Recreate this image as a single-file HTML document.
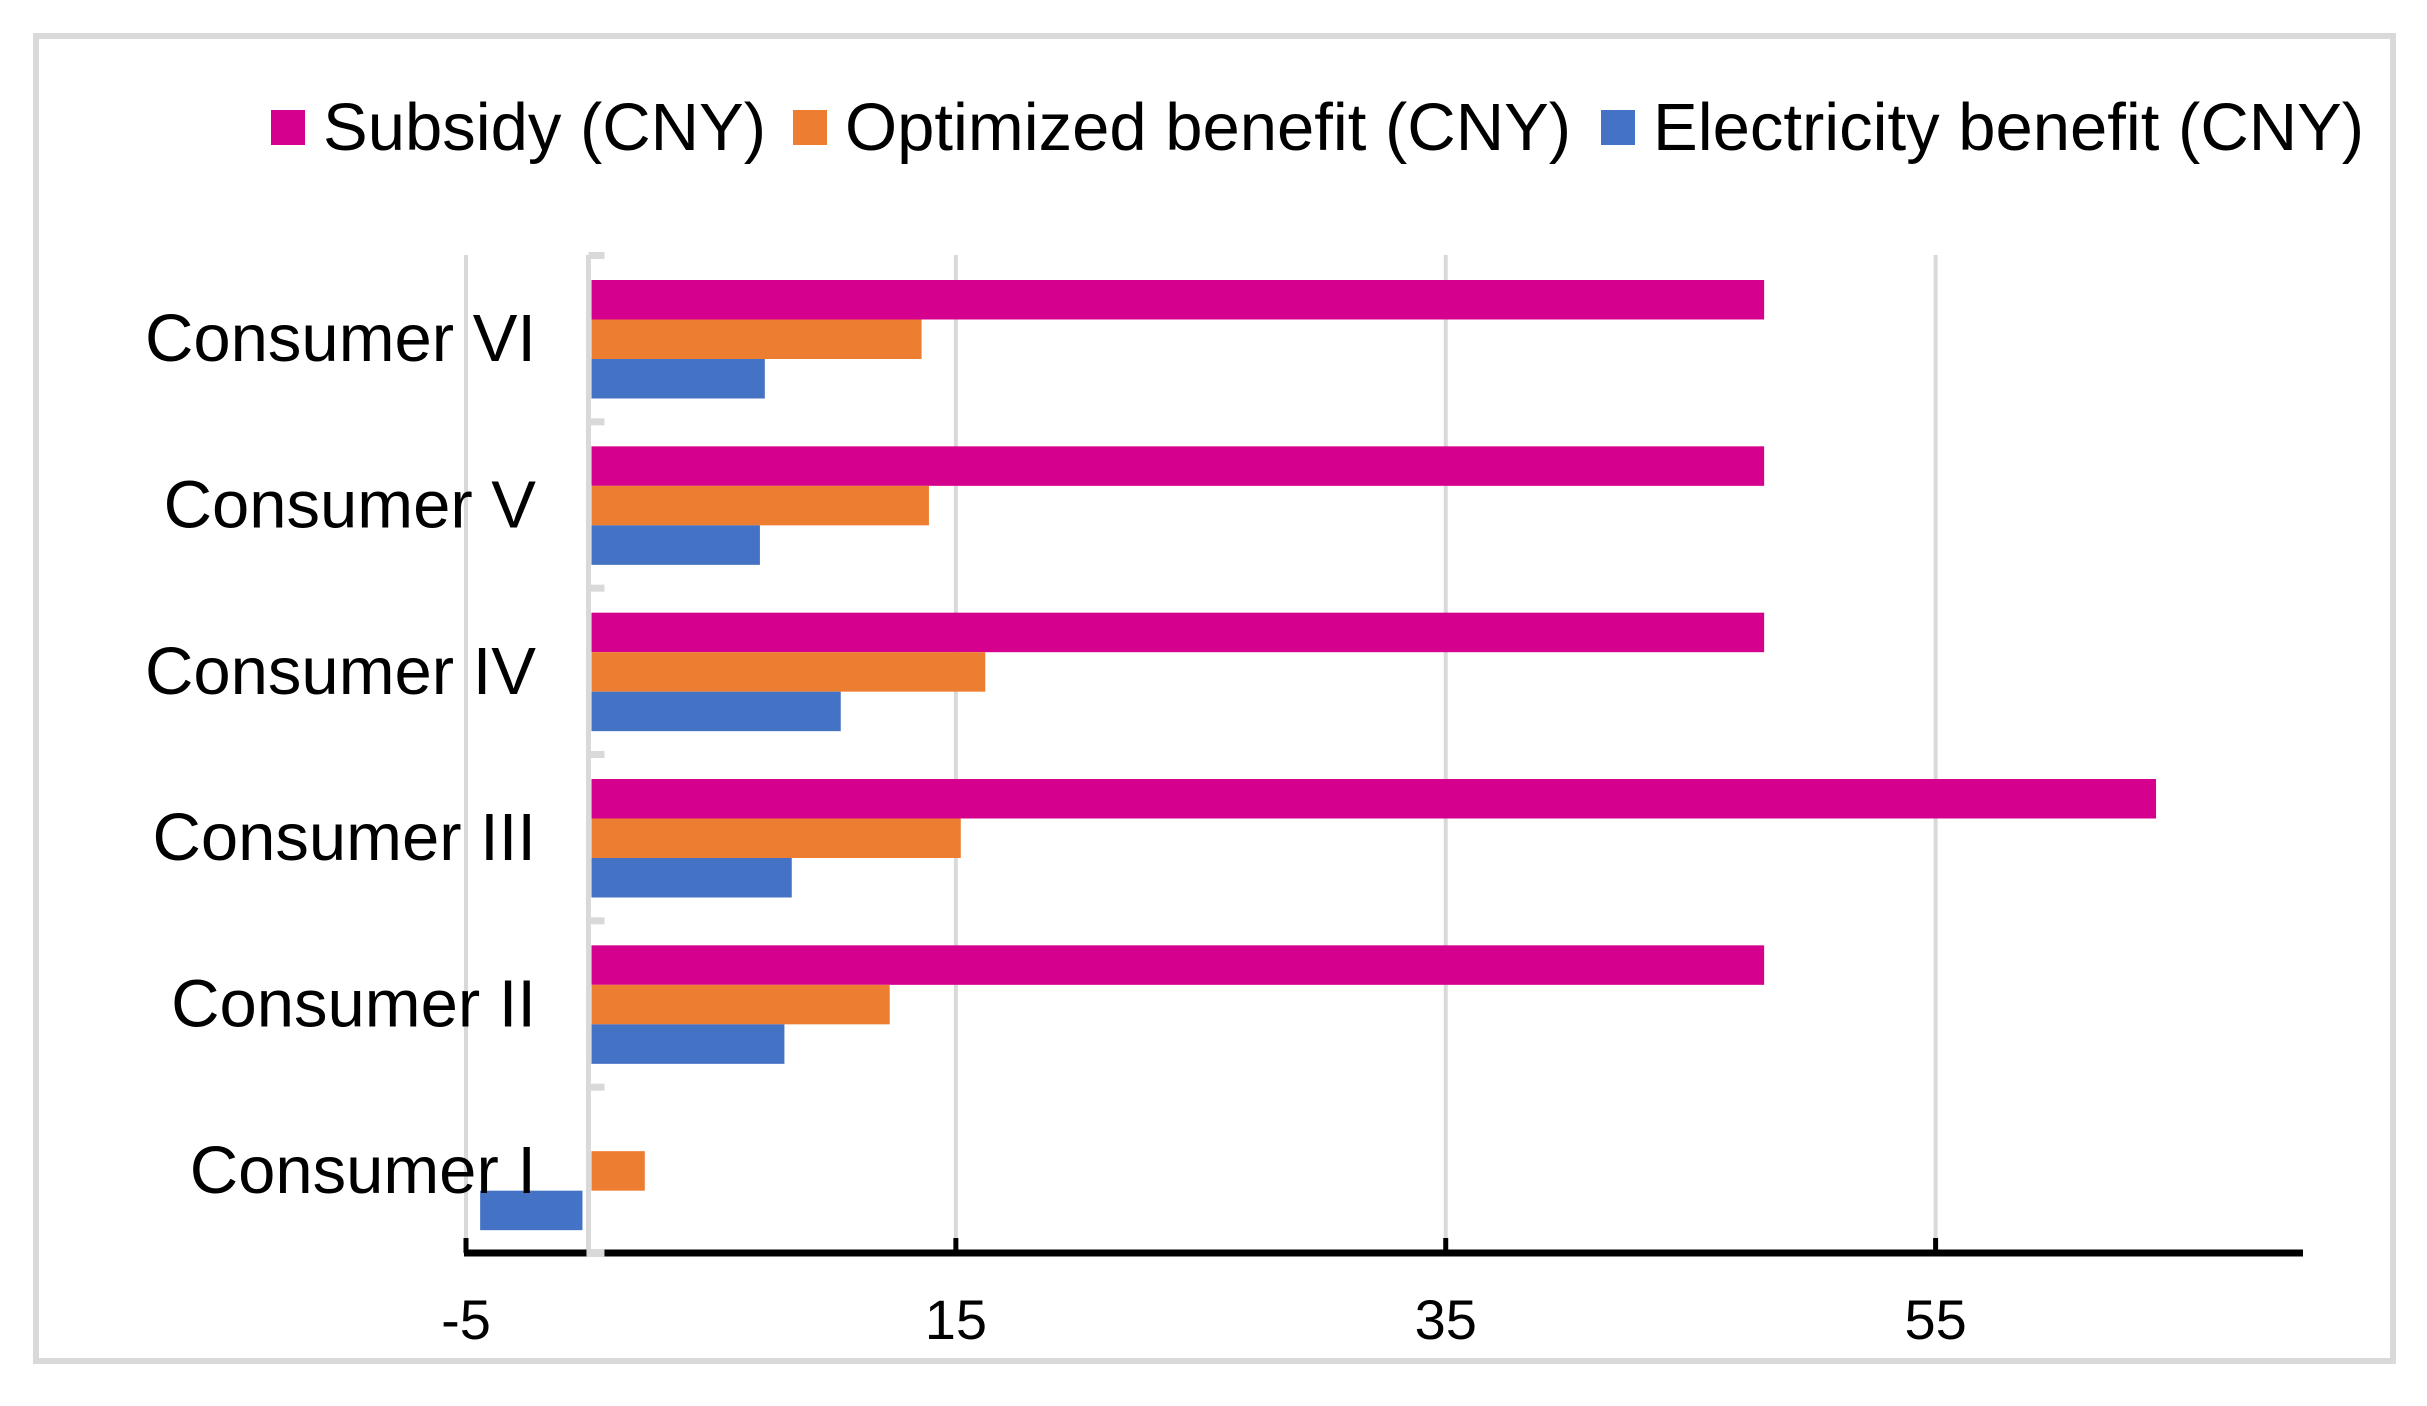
<!DOCTYPE html>
<html><head><meta charset="utf-8"><style>
html,body{margin:0;padding:0;background:#fff;}
svg{display:block;font-family:"Liberation Sans",Arial,sans-serif;}
</style></head><body>
<svg id="chart" width="2427" height="1406" viewBox="0 0 2427 1406">
<rect x="36" y="36" width="2357" height="1325" fill="#fff" stroke="#d9d9d9" stroke-width="6"/>
<g id="grid"></g><g id="bars"></g><g id="axes"></g><g id="legend"></g>
</svg>
<script>
const categories = ["Consumer I","Consumer II","Consumer III","Consumer IV","Consumer V","Consumer VI"];
const subsidy = [0, 48, 64, 48, 48, 48];
const optimized = [2.3, 12.3, 15.2, 16.2, 13.9, 13.6];
const electricity = [-4.3, 8.0, 8.3, 10.3, 7.0, 7.2];
const xTicks = [-5, 15, 35, 55];
const seriesNames = ["Subsidy (CNY)","Optimized benefit (CNY)","Electricity benefit (CNY)"];
const colors = ["#d6008f","#ed7d31","#4472c4"];

const NS="http://www.w3.org/2000/svg";
const xMin=-5,xMax=70,pLeft=466,pRight=2303,pTop=255,pBottom=1253;
const xs=v=>pLeft+(v-xMin)*(pRight-pLeft)/(xMax-xMin);
const band=(pBottom-pTop)/categories.length;
const bandTop=i=>pBottom-(i+1)*band;
function mk(tag,attrs,parent){const e=document.createElementNS(NS,tag);for(const k in attrs)e.setAttribute(k,attrs[k]);document.getElementById(parent).appendChild(e);return e;}

xTicks.forEach(t=>{
  const g=mk('line',{x1:xs(t),x2:xs(t),y1:pTop,y2:pBottom,stroke:'#d9d9d9','stroke-width':4},'grid');
  
  
});
const zl=mk('line',{x1:xs(0),x2:xs(0),y1:pTop,y2:pBottom+4,stroke:'#d9d9d9','stroke-width':5},'grid');


for(let i=0;i<=categories.length;i++){
  const s=mk('rect',{x:xs(0),y:pTop+i*band-3,width:16,height:7,fill:'#d9d9d9'},'grid');
  
  
}

const series=[subsidy,optimized,electricity];
const barH=39.5,off=25;
categories.forEach((c,i)=>{
  series.forEach((arr,s)=>{
    const v=arr[i]; if(v===0)return;
    const x0=Math.min(xs(0),xs(v)),w=Math.abs(xs(v)-xs(0));
    const r=mk('rect',{x:x0+(v>0?3:-3),y:bandTop(i)+off+s*barH,width:Math.max(0,w-3),height:barH,fill:colors[s]},'bars');
    
    
  });
  const t=mk('text',{x:536,y:bandTop(i)+band/2+23,'text-anchor':'end','font-size':67,fill:'#000'},'axes');
  t.textContent=c;
  
  
});

const ax=mk('line',{x1:pLeft-2,x2:pRight,y1:pBottom,y2:pBottom,stroke:'#000','stroke-width':7},'axes');


const gap=mk('rect',{x:xs(0)-2,y:pBottom-4,width:18,height:8,fill:'#d9d9d9'},'axes');


xTicks.forEach(t=>{
  const tk=mk('line',{x1:xs(t),x2:xs(t),y1:pBottom-15,y2:pBottom,stroke:'#000','stroke-width':5},'axes');
  
  
  const l=mk('text',{x:xs(t),y:1339,'text-anchor':'middle','font-size':56,fill:'#000'},'axes');
  l.textContent=String(t);
  
  
});

const lx=[271,793,1601];
seriesNames.forEach((n,s)=>{
  const sw=mk('rect',{x:lx[s],y:110,width:34,height:35,fill:colors[s]},'legend');
  
  
  const t=mk('text',{x:lx[s]+52,y:150,'font-size':67,fill:'#000'},'legend');
  t.textContent=n;
  
  
});
</script>
</body></html>
